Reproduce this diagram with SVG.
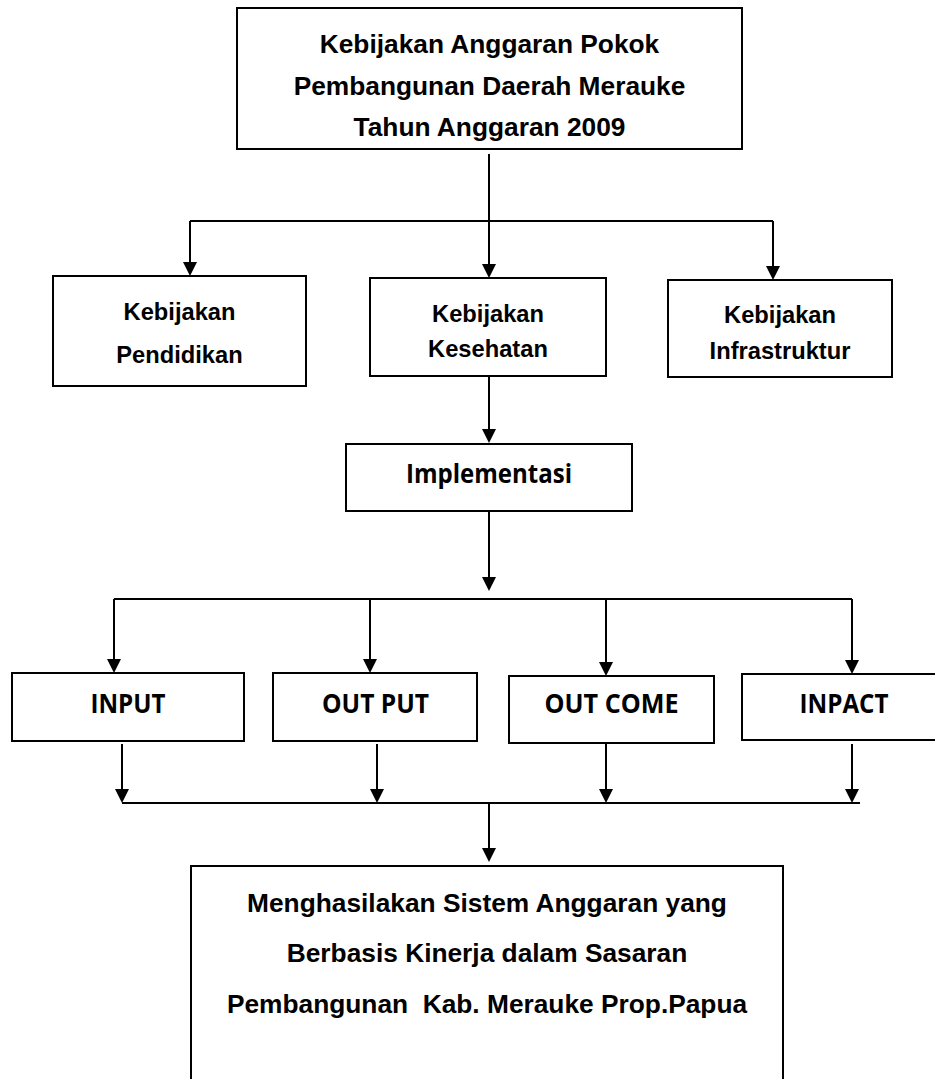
<svg xmlns="http://www.w3.org/2000/svg" width="935" height="1079" viewBox="0 0 935 1079">
<style>
  .box { fill: #ffffff; stroke: #000000; stroke-width: 2; }
  .ar { font-family: "Liberation Sans", Arial, sans-serif; font-weight: bold; fill: #000000; text-anchor: middle; }
  .big { font-size: 26.3px; }
  .mid { font-size: 23.7px; }
  .cal { font-family: "Open Sans", "Noto Sans", sans-serif; font-weight: bold; font-size: 27px; fill: #000000; text-anchor: middle; }
  .conn { fill: none; stroke: #000000; stroke-width: 2; }
  .arrow { marker-end: url(#head); }
</style>
<defs>
  <marker id="head" markerUnits="userSpaceOnUse" markerWidth="14" markerHeight="14" viewBox="0 0 14 14" refX="10" refY="7" orient="auto">
    <path d="M0,0 L14,7 L0,14 z" fill="#000000"/>
  </marker>
</defs>
<rect width="935" height="1079" fill="#ffffff"/>

<g id="connectors">
  <line class="conn arrow" x1="489" y1="154" x2="489" y2="274"/>
  <line class="conn" x1="190" y1="221" x2="773" y2="221"/>
  <line class="conn arrow" x1="190" y1="221" x2="190" y2="272"/>
  <line class="conn arrow" x1="773" y1="221" x2="773" y2="276"/>
  <line class="conn arrow" x1="489" y1="376" x2="489" y2="439"/>
  <line class="conn arrow" x1="489" y1="511" x2="489" y2="587"/>
  <line class="conn" x1="114" y1="599" x2="852" y2="599"/>
  <line class="conn arrow" x1="114" y1="599" x2="114" y2="669"/>
  <line class="conn arrow" x1="370" y1="599" x2="370" y2="669"/>
  <line class="conn arrow" x1="606" y1="599" x2="606" y2="672"/>
  <line class="conn arrow" x1="852" y1="599" x2="852" y2="670"/>
  <line class="conn arrow" x1="122" y1="744" x2="122" y2="799"/>
  <line class="conn arrow" x1="377" y1="744" x2="377" y2="799"/>
  <line class="conn arrow" x1="606" y1="741" x2="606" y2="799"/>
  <line class="conn arrow" x1="852" y1="744" x2="852" y2="799"/>
  <line class="conn" x1="122" y1="803" x2="860" y2="803"/>
  <line class="conn arrow" x1="489" y1="803" x2="489" y2="858"/>
</g>

<g id="node-top">
  <rect class="box" x="237" y="8" width="505" height="141"/>
  <text class="ar big" x="489.5" y="53">Kebijakan Anggaran Pokok</text>
  <text class="ar big" x="489.5" y="95">Pembangunan Daerah Merauke</text>
  <text class="ar big" x="489.5" y="136">Tahun Anggaran 2009</text>
</g>

<g id="node-pendidikan">
  <rect class="box" x="53" y="276" width="253" height="110"/>
  <text class="ar mid" x="179.5" y="320">Kebijakan</text>
  <text class="ar mid" x="179.5" y="363">Pendidikan</text>
</g>

<g id="node-kesehatan">
  <rect class="box" x="370" y="278" width="236" height="98"/>
  <text class="ar mid" x="488" y="322">Kebijakan</text>
  <text class="ar mid" x="488" y="357">Kesehatan</text>
</g>

<g id="node-infrastruktur">
  <rect class="box" x="668" y="280" width="224" height="97"/>
  <text class="ar mid" x="780" y="323">Kebijakan</text>
  <text class="ar mid" x="780" y="359">Infrastruktur</text>
</g>

<g id="node-implementasi">
  <rect class="box" x="346" y="444" width="286" height="67"/>
  <text class="cal" x="489" y="483" textLength="166" lengthAdjust="spacingAndGlyphs">Implementasi</text>
</g>

<g id="node-input">
  <rect class="box" x="12" y="673" width="232" height="68"/>
  <text class="cal" x="128" y="713" textLength="75" lengthAdjust="spacingAndGlyphs">INPUT</text>
</g>

<g id="node-output">
  <rect class="box" x="273" y="673" width="204" height="68"/>
  <text class="cal" x="375.5" y="713" textLength="107" lengthAdjust="spacingAndGlyphs">OUT PUT</text>
</g>

<g id="node-outcome">
  <rect class="box" x="509" y="676" width="205" height="67"/>
  <text class="cal" x="611.5" y="713" textLength="134" lengthAdjust="spacingAndGlyphs">OUT COME</text>
</g>

<g id="node-inpact">
  <rect class="box" x="742" y="674" width="203" height="66"/>
  <text class="cal" x="844" y="713" textLength="89" lengthAdjust="spacingAndGlyphs">INPACT</text>
</g>

<g id="node-result">
  <rect class="box" x="191" y="866" width="592" height="230"/>
  <text class="ar big" x="487" y="912">Menghasilakan Sistem Anggaran yang</text>
  <text class="ar big" x="487" y="962">Berbasis Kinerja dalam Sasaran</text>
  <text class="ar big" x="487" y="1013" xml:space="preserve" style="white-space:pre">Pembangunan  Kab. Merauke Prop.Papua</text>
</g>
</svg>
